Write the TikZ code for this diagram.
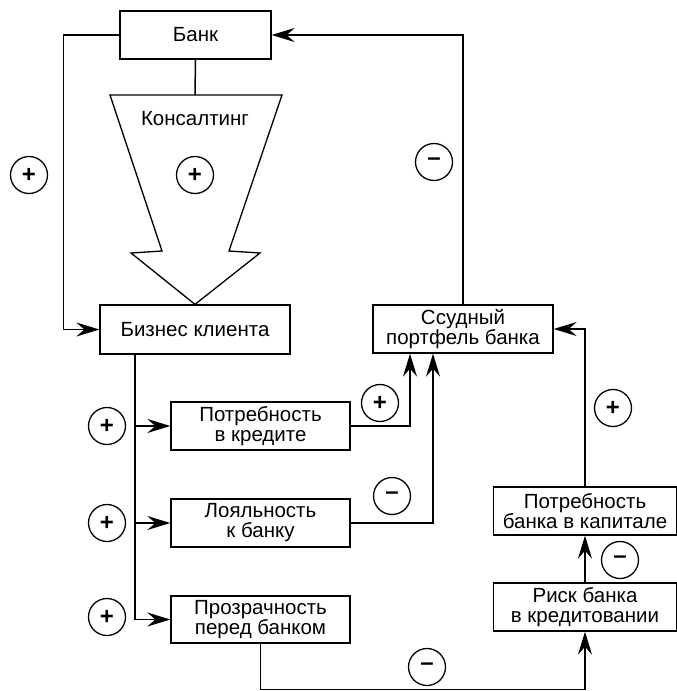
\documentclass[tikz,border=0pt]{standalone}
\usepackage{fontspec}
\setmainfont{Liberation Sans}
\usetikzlibrary{positioning,calc,arrows.meta}

\begin{document}
\begin{tikzpicture}[
    x=1pt, y=-1pt,
    box/.style={draw, line width=1.3pt, inner sep=0pt, minimum height=48pt, align=center, font=\fontsize{20.5}{20}\selectfont},
    sign/.style={draw, circle, line width=1.3pt, minimum size=37pt, inner sep=0pt, font=\fontsize{24}{24}\selectfont\bfseries},
    line/.style={line width=1.5pt},
    arrow/.style={line, -{Stealth[length=23pt, width=14pt, inset=8pt]}}
]
\useasboundingbox (0,0) rectangle (677,691);

% Bank and client business
\node[box, minimum width=151pt] (bank) at (195.5,35) {Банк};
\node[box, minimum width=190pt, minimum height=49pt] (biz) at (195,329.5) {Бизнес клиента};
\node[box, minimum width=180pt] (loan) at (463,329) {Ссудный\\портфель банка};

% Client side boxes
\node[box, minimum width=179pt] (need) at (260.5,426) {Потребность\\в кредите};
\node[box, minimum width=179pt] (loyal) at (260.5,523) {Лояльность\\к банку};
\node[box, minimum width=179pt, minimum height=47pt] (transp) at (260.5,619.5) {Прозрачность\\перед банком};

% Bank side boxes
\node[box, minimum width=183pt] (capital) at (585,511) {Потребность\\банка в капитале};
\node[box, minimum width=183pt] (risk) at (585,607) {Риск банка\\в кредитовании};

% Consulting funnel
\coordinate (ftop) at (195,95);
\draw[line width=1.3pt] (110,95) -- (282,95) -- (229,251) -- (260,253) -- (biz.north) -- (131,253) -- (162,251) -- cycle;
\draw[line] (bank.south) -- (ftop);
\node[font=\fontsize{20.5}{20}\selectfont] (cons) at (195,119) {Консалтинг};

% Feedback loops around the bank
\draw[arrow] (bank.west) -- ++(-56,0) |- (biz.west);
\draw[arrow] (loan.north) |- (bank.east);
\draw[arrow] (capital.north) |- (loan.east);

% Client business fans out
\draw[arrow] ([xshift=-60pt]biz.south) |- (need.west);
\draw[arrow] ([xshift=-60pt]biz.south) |- (loyal.west);
\draw[arrow] ([xshift=-60pt]biz.south) |- (transp.west);

% Into loan portfolio
\draw[arrow] (need.east) -| ([xshift=-53pt]loan.south);
\draw[arrow] (loyal.east) -| ([xshift=-30pt]loan.south);

% Transparency to risk, risk to capital
\draw[arrow] (transp.south) -- ++(0,46) -| (risk.south);
\draw[arrow] (risk.north) -- (capital.south);

% Signs
\node[sign] (s1) at (29,175) {+};
\node[sign] (s2) at (195,175) {+};
\node[sign] (s3) at (434,162) {–};
\node[sign] (s4) at (107,426) {+};
\node[sign] (s5) at (107,523) {+};
\node[sign] (s6) at (107,617) {+};
\node[sign] (s7) at (380,403) {+};
\node[sign] (s8) at (392,496) {–};
\node[sign] (s9) at (613,408) {+};
\node[sign] (s10) at (620,560) {–};
\node[sign] (s11) at (427,667) {–};

\end{tikzpicture}
\end{document}
